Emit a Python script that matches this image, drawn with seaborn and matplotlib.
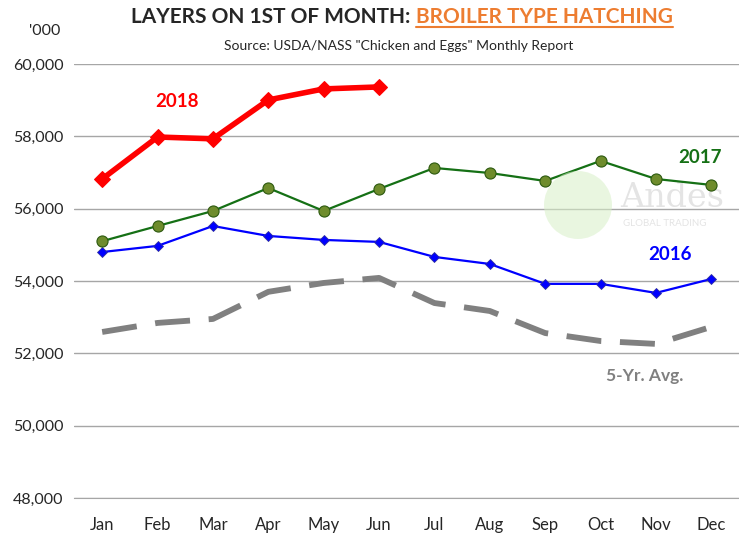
import numpy as np
import pandas as pd
import matplotlib.pyplot as plt
from matplotlib.patches import Ellipse
import seaborn as sns

sns.set_style("white")
plt.rcParams["font.family"] = ["Liberation Sans Narrow", "Lato", "DejaVu Sans"]

months = ["Jan", "Feb", "Mar", "Apr", "May", "Jun",
          "Jul", "Aug", "Sep", "Oct", "Nov", "Dec"]
y2018 = [56820, 57980, 57930, 59005, 59310, 59365]
y2017 = [55100, 55520, 55935, 56570, 55935, 56545,
         57125, 56985, 56765, 57320, 56820, 56655]
y2016 = [54800, 54970, 55520, 55245, 55135, 55080,
         54665, 54470, 53920, 53920, 53670, 54055]
avg5 = [52590, 52840, 52950, 53700, 53945, 54085,
        53390, 53170, 52560, 52340, 52260, 52730]
yticks = [48000, 50000, 52000, 54000, 56000, 58000, 60000]

RED = "#ff0000"
GREEN = "#157015"
OLIVE = "#6e8c2c"
BLUE = "#0000ff"
GREY = "#808080"
ORANGE = "#ed7d31"

fig = plt.figure(figsize=(7.39, 5.33), dpi=100)
ax = fig.add_axes([0.1008, 0.0657, 0.8992, 0.8143])

# faint watermark (globe + name)
fig.add_artist(Ellipse((578 / 739, 1 - 205 / 533), 68 / 739, 68 / 533,
                       transform=fig.transFigure, facecolor="#d8f0c8",
                       edgecolor="none", alpha=0.55, zorder=0.5))
ax.text(9.35, 56300, "Andes", color="#e4e4e4", fontsize=24,
        family="DejaVu Serif", ha="left", va="center", zorder=0)
ax.text(9.4, 55600, "GLOBAL TRADING", color="#e4e4e4", fontsize=7,
        ha="left", va="center", zorder=0)

# 5-yr average, dashed
sns.lineplot(x=months, y=avg5, ax=ax, color=GREY, lw=4.2, sort=False)
ax.lines[-1].set_dashes((6, 3.2))
ax.lines[-1].set_dash_capstyle("butt")

sns.lineplot(x=months, y=y2016, ax=ax, color=BLUE, lw=1.6, sort=False,
             marker="D", markersize=5, markerfacecolor=BLUE,
             markeredgecolor="#3030a0", markeredgewidth=0.6)
sns.lineplot(x=months, y=y2017, ax=ax, color=GREEN, lw=1.6, sort=False,
             marker="o", markersize=8, markerfacecolor=OLIVE,
             markeredgecolor="#2d5a10", markeredgewidth=0.8)
sns.lineplot(x=months[:6], y=y2018, ax=ax, color=RED, lw=4, sort=False,
             marker="D", markersize=8, markerfacecolor=RED,
             markeredgecolor=RED)

ax.patch.set_alpha(0)
ax.set_xlim(-0.5, 11.5)
ax.set_ylim(48000, 60000)
ax.set_yticks(yticks)
ax.set_yticklabels([f"{v:,}" for v in yticks])
ax.yaxis.grid(True, color="#a6a6a6", lw=1)
ax.set_axisbelow(True)
for s in ["left", "right", "top"]:
    ax.spines[s].set_visible(False)
ax.spines["bottom"].set_color("#a6a6a6")
ax.set_xticks(np.arange(-0.5, 12, 1), minor=True)
ax.tick_params(axis="x", which="major", length=0, labelsize=12, pad=14)
ax.tick_params(axis="x", which="minor", length=7, color="#a6a6a6")
ax.tick_params(axis="y", length=0, labelsize=11.5, pad=8)
ax.set_xlabel("")
ax.set_ylabel("")

# series labels
ax.text(1.35, 58950, "2018", color=RED, fontsize=13.5, fontweight="bold",
        ha="center", va="center")
ax.text(10.8, 57400, "2017", color=GREEN, fontsize=13.5, fontweight="bold",
        ha="center", va="center")
ax.text(10.25, 54720, "2016", color=BLUE, fontsize=13.5, fontweight="bold",
        ha="center", va="center")
ax.text(9.8, 51380, "5-Yr. Avg.", color=GREY, fontsize=12.5, fontweight="bold",
        ha="center", va="center")

# titles: measure both parts and centre the pair
t1 = fig.text(0, 0.968, "LAYERS ON 1ST OF MONTH: ", fontsize=15,
              fontweight="bold", ha="left", va="center")
t2 = fig.text(0, 0.968, "BROILER TYPE HATCHING", fontsize=15,
              fontweight="bold", color=ORANGE, ha="left", va="center")
fig.canvas.draw()
inv = fig.transFigure.inverted()
w1 = t1.get_window_extent().transformed(inv).width
w2 = t2.get_window_extent().transformed(inv).width
x0 = 0.544 - (w1 + w2) / 2
t1.set_x(x0)
t2.set_x(x0 + w1)
fig.canvas.draw()
bb = t2.get_window_extent().transformed(inv)
fig.add_artist(plt.Line2D([bb.x0, bb.x1], [bb.y0 + 0.001, bb.y0 + 0.001],
                          color=ORANGE, lw=1.5, transform=fig.transFigure))
fig.text(0.54, 0.913, 'Source: USDA/NASS "Chicken and Eggs" Monthly Report',
         fontsize=10, ha="center", va="center")
fig.text(0.06, 0.942, "'000", fontsize=11.5, ha="center", va="center")

fig.savefig("out.png", dpi=100)
